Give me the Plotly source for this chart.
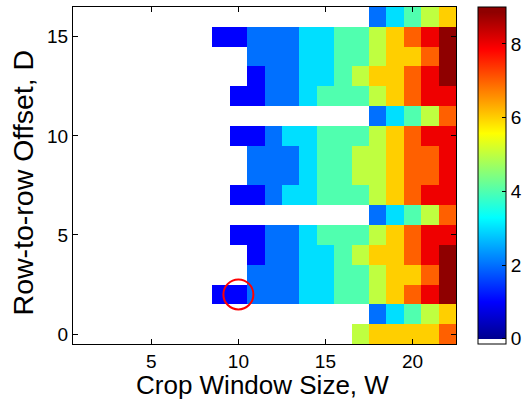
import plotly.graph_objects as go

# ---- data ----
crop_w = list(range(1, 23))          # Crop Window Size, W (columns)
offset_d = list(range(0, 17))        # Row-to-row Offset, D (rows)
N = None
# each row: values for W = 1..22 (None = no data / white)
d00 = [N]*16 + [5, 6, 6, 6, 6, 7]
d01 = [N]*17 + [2, 3, 4, 5, 6]
d02 = [N]*8 + [1, 1, 2, 2, 2, 3, 3, 4, 4, 5, 6, 7, 8, 9]
d03 = [N]*10 + [2, 2, 2, 3, 3, 4, 4, 5, 6, 6, 7, 9]
d04 = [N]*10 + [1, 2, 2, 3, 3, 4, 5, 6, 6, 7, 8, 9]
d05 = [N]*9 + [1, 1, 2, 2, 3, 4, 4, 4, 5, 6, 7, 8, 8]
d06 = [N]*17 + [2, 3, 4, 5, 7]
d07 = [N]*9 + [1, 1, 2, 3, 3, 4, 4, 4, 5, 6, 7, 8, 8]
d08 = [N]*10 + [2, 2, 2, 3, 4, 4, 5, 5, 6, 7, 7, 8]
d09 = [N]*10 + [2, 2, 2, 3, 4, 4, 5, 5, 6, 7, 7, 8]
d10 = [N]*9 + [1, 1, 2, 3, 3, 4, 4, 4, 5, 6, 7, 8, 8]
d11 = [N]*17 + [2, 3, 4, 5, 7]
d12 = [N]*9 + [1, 1, 2, 2, 3, 4, 4, 4, 5, 6, 7, 8, 8]
d13 = [N]*10 + [1, 2, 2, 3, 3, 4, 5, 6, 6, 7, 8, 9]
d14 = [N]*10 + [2, 2, 2, 3, 3, 4, 4, 5, 6, 6, 7, 9]
d15 = [N]*8 + [1, 1, 2, 2, 2, 3, 3, 4, 4, 5, 6, 7, 8, 9]
d16 = [N]*17 + [2, 3, 4, 5, 6]
z_rows = [d00, d01, d02, d03, d04, d05, d06, d07, d08, d09,
          d10, d11, d12, d13, d14, d15, d16]

highlight_w = [10]
highlight_d = [2]

x_ticks = [5, 10, 15, 20]
y_ticks = [0, 5, 10, 15]
cb_ticks = [0, 2, 4, 6, 8]
z_min, z_max = -1/7, 9

# ---- colormap: white + MATLAB jet(63) ----
def matlab_jet(m):
    import math
    n = math.ceil(m / 4)
    u = [i / n for i in range(1, n + 1)] + [1.0] * (n - 1) + [i / n for i in range(n, 0, -1)]
    g0 = math.ceil(n / 2) - (1 if m % 4 == 1 else 0)
    J = [[0.0, 0.0, 0.0] for _ in range(m)]
    for i, val in enumerate(u, start=1):
        g = g0 + i
        r = g + n
        b = g - n
        if 1 <= r <= m:
            J[r - 1][0] = val
        if 1 <= g <= m:
            J[g - 1][1] = val
        if 1 <= b <= m:
            J[b - 1][2] = val
    return J

jet = matlab_jet(63)
def rgb(c):
    return "rgb(%d,%d,%d)" % tuple(round(255 * v) for v in c)

colorscale = [[0.0, "rgb(255,255,255)"], [1/64, "rgb(255,255,255)"]]
for k in range(1, 64):
    colorscale.append([k / 64, rgb(jet[k - 1])])
colorscale.append([1.0, rgb(jet[62])])

FONT = "Liberation Sans, Arial, Helvetica, sans-serif"
PLOT_W = 522 - 73 - 66

fig = go.Figure()
fig.add_trace(go.Heatmap(
    x=crop_w, y=offset_d, z=z_rows,
    zmin=z_min, zmax=z_max, colorscale=colorscale,
    xgap=0, ygap=0, hoverongaps=False,
    colorbar=dict(
        x=(478 - 73) / PLOT_W, xanchor="left", xpad=0,
        y=0.5, yanchor="middle", ypad=0,
        len=1, lenmode="fraction", thickness=28, thicknessmode="pixels",
        outlinewidth=1, outlinecolor="black",
        tickvals=cb_ticks, ticks="inside", ticklen=4, tickcolor="black",
        tickfont=dict(family=FONT, size=19, color="black"),
    ),
))
fig.add_trace(go.Scatter(
    x=highlight_w, y=highlight_d, mode="markers",
    marker=dict(symbol="circle-open", size=30, color="red",
                line=dict(width=2, color="red")),
    showlegend=False, hoverinfo="skip",
))

axis_common = dict(
    showgrid=False, zeroline=False, showline=True, linecolor="black", linewidth=1,
    mirror="ticks", ticks="inside", ticklen=5, tickcolor="black",
    tickfont=dict(family=FONT, size=19, color="black"),
)
fig.update_xaxes(range=[0.5, 22.5], tickvals=x_ticks, ticklabelstandoff=0, **axis_common)
fig.update_yaxes(range=[-0.5, 16.5], tickvals=y_ticks, ticklabelstandoff=0, **axis_common)

fig.update_layout(
    width=522, height=402,
    margin=dict(l=73, r=66, t=7, b=58, pad=0, autoexpand=False),
    plot_bgcolor="white", paper_bgcolor="white",
    font=dict(family=FONT, color="black"),
    showlegend=False,
    annotations=[
        dict(text="Crop Window Size, W", xref="paper", yref="paper",
             x=(262 - 73) / PLOT_W, y=0, xanchor="center", yanchor="bottom",
             yshift=-57, borderpad=0,
             showarrow=False, font=dict(family=FONT, size=26, color="black")),
        dict(text="Row-to-row Offset, D", xref="paper", yref="paper",
             x=(22.5 - 73) / PLOT_W, y=0.478, xanchor="center", yanchor="middle",
             textangle=-90, showarrow=False,
             font=dict(family=FONT, size=28.5, color="black")),
    ],
)

fig.write_html("out.html")
